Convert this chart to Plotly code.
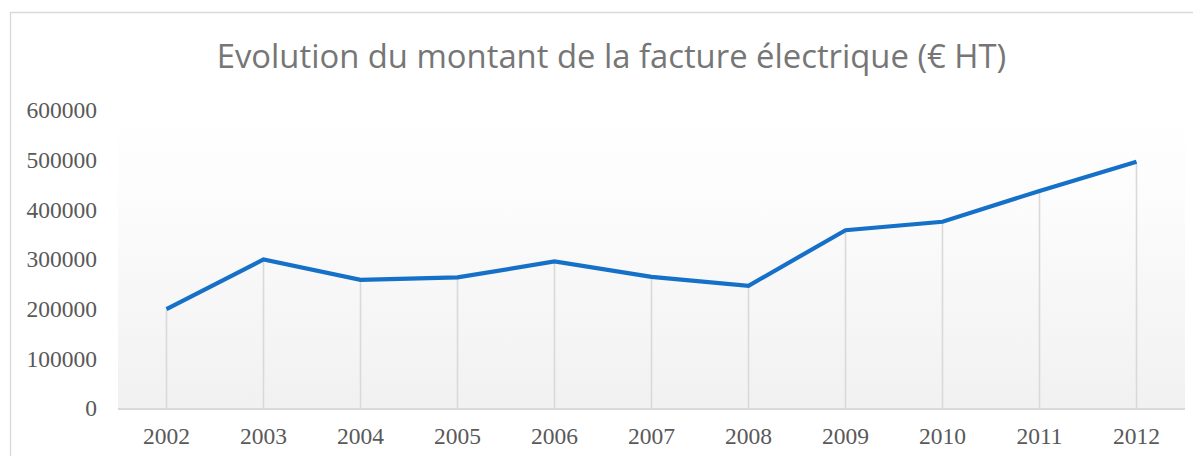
import plotly.graph_objects as go

years = ["2002", "2003", "2004", "2005", "2006", "2007", "2008", "2009", "2010", "2011", "2012"]
montant = [199000, 299000, 258000, 263000, 295000, 264000, 246000, 358000, 375000, 437000, 496000]
y_ticks = [0, 100000, 200000, 300000, 400000, 500000, 600000]

OFF = 8  # page body margin
W, H = 1201 - OFF, 456 - OFF
L, R, T, B = 118 - OFF, 16, 110 - OFF, 48
pw, ph = W - L - R, H - T - B
idx = list(range(len(years)))

fig = go.Figure()

# plot-area gradient background spanning the axis ranges
fig.add_trace(go.Scatter(
    x=[-0.5, len(years) - 0.5, len(years) - 0.5, -0.5, -0.5],
    y=[0, 0, y_ticks[-1], y_ticks[-1], 0],
    mode="lines", line=dict(width=0),
    fill="toself",
    fillgradient=dict(type="vertical",
                      colorscale=[[0, "#f1f1f1"], [0.7, "#fcfcfc"], [1, "#ffffff"]]),
    hoverinfo="skip", showlegend=False,
))

# drop lines
fig.add_trace(go.Scatter(
    x=idx, y=montant, mode="markers", marker=dict(size=0.1, color="rgba(0,0,0,0)"),
    error_y=dict(type="data", symmetric=False, array=[0] * len(montant), arrayminus=montant,
                 color="#d9d9d9", thickness=1.6, width=0),
    hoverinfo="skip", showlegend=False,
))

fig.add_trace(go.Scatter(
    x=idx, y=montant, mode="lines",
    line=dict(color="#1570c8", width=4.2),
    showlegend=False,
))

# outer chart border
fig.add_shape(type="rect", xref="paper", yref="paper",
              x0=(10.5 - OFF - L) / pw, x1=(W + 5 - L) / pw,
              y0=(H - B - (H + 5)) / ph, y1=(H - B - (12.5 - OFF)) / ph,
              line=dict(color="#d9d9d9", width=1.3), fillcolor="rgba(0,0,0,0)", layer="below")

tickfont = dict(family="Liberation Serif", size=23.5, color="#595959")

fig.update_layout(
    width=W, height=H,
    margin=dict(l=L, r=R, t=T, b=B, autoexpand=False),
    paper_bgcolor="white", plot_bgcolor="rgba(0,0,0,0)",
    title=dict(text="Evolution du montant de la facture électrique (€ HT)",
               x=(611.5 - OFF) / W, xanchor="center", y=1 - (57 - OFF) / H, yanchor="middle",
               font=dict(family="Open Sans", size=32.8, color="#767676")),
    xaxis=dict(range=[-0.5, len(years) - 0.5], tickvals=idx, ticktext=years, showgrid=False,
               showline=True, linecolor="#d9d9d9", linewidth=2, ticks="", automargin=False,
               tickfont=tickfont, ticklabelstandoff=6, zeroline=False),
    yaxis=dict(range=[0, y_ticks[-1]], tickvals=y_ticks, tickformat="d", automargin=False,
               showgrid=False, showline=False, zeroline=False, ticks="",
               tickfont=tickfont, ticklabelstandoff=20),
)

fig.write_html("out.html")
